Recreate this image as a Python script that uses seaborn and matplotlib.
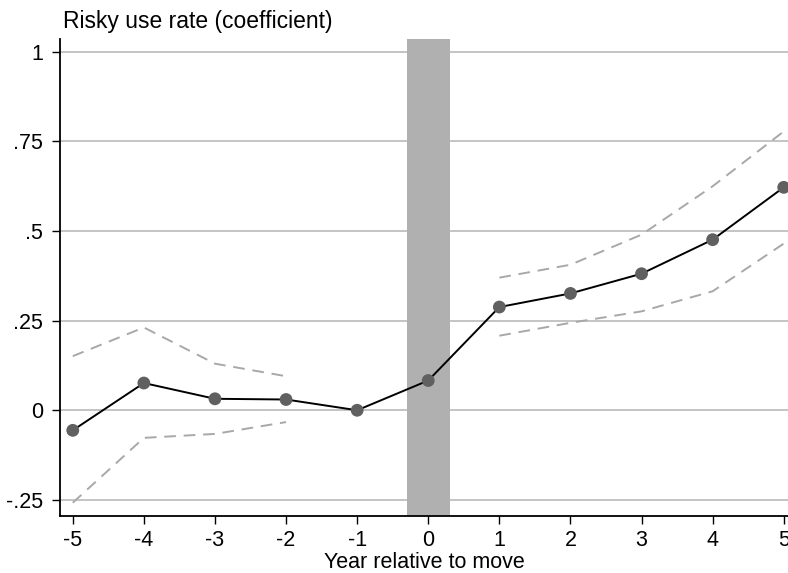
import numpy as np
import pandas as pd
import matplotlib
matplotlib.use("Agg")
import matplotlib.pyplot as plt
import seaborn as sns

# event-time coefficients
years = [-5, -4, -3, -2, -1, 0, 1, 2, 3, 4, 5]
coef = [-0.056, 0.076, 0.032, 0.030, 0.0, 0.083, 0.288, 0.326, 0.381, 0.476, 0.622]

# confidence bands (pre and post, drawn separately)
pre_years = [-5, -4, -3, -2]
pre_upper = [0.151, 0.231, 0.130, 0.095]
pre_lower = [-0.258, -0.077, -0.066, -0.033]
post_years = [1, 2, 3, 4, 5]
post_upper = [0.370, 0.406, 0.490, 0.625, 0.778]
post_lower = [0.208, 0.244, 0.276, 0.332, 0.465]

ytick_vals = [-0.25, 0, 0.25, 0.5, 0.75, 1]
ytick_labels = ['-.25', '0', '.25', '.5', '.75', '1']

sns.set_style("white")
plt.rcParams['font.family'] = ['Liberation Sans', 'DejaVu Sans']
plt.rcParams['text.color'] = 'black'
plt.rcParams['xtick.color'] = 'black'
plt.rcParams['ytick.color'] = 'black'
plt.rcParams['axes.labelcolor'] = 'black'

fig = plt.figure(figsize=(7.88, 5.73), dpi=100)
ax = fig.add_axes([0.0761, 0.0995, 0.9239, 0.8325])

for v in ytick_vals:
    ax.axhline(v, color='#b4b4b4', lw=1.1, zorder=0)

ax.axvspan(-0.3, 0.3, color='#b0b0b0', lw=0, zorder=1)

dash_kw = dict(color='#a8a8a8', lw=1.4, dashes=(6, 4), zorder=2)
pre = pd.DataFrame({'year': pre_years, 'up': pre_upper, 'lo': pre_lower})
post = pd.DataFrame({'year': post_years, 'up': post_upper, 'lo': post_lower})
for d in (pre, post):
    sns.lineplot(data=d, x='year', y='up', ax=ax, **dash_kw)
    sns.lineplot(data=d, x='year', y='lo', ax=ax, **dash_kw)

df = pd.DataFrame({'year': years, 'coef': coef})
sns.lineplot(data=df, x='year', y='coef', ax=ax, color='black', lw=1.4, zorder=3)
sns.scatterplot(data=df, x='year', y='coef', ax=ax, color='#606060', s=85,
                edgecolor='none', zorder=4, clip_on=False)

ax.set_xlim(-5.18, 5.06)
ax.set_ylim(-0.295, 1.036)
ax.set_xticks(years)
ax.set_xticklabels([str(y) for y in years])
ax.set_yticks(ytick_vals)
ax.set_yticklabels(ytick_labels)

for s in ['top', 'right']:
    ax.spines[s].set_visible(False)
for s in ['left', 'bottom']:
    ax.spines[s].set_color('black')
    ax.spines[s].set_linewidth(1.3)

ax.tick_params(axis='both', direction='out', length=6, width=1, color='black',
               labelsize=15.5, left=True, bottom=True)
ax.tick_params(axis='y', pad=6)
ax.tick_params(axis='x', pad=4)
ax.set_xlabel('Year relative to move', fontsize=15.5, labelpad=1)
ax.set_ylabel('')
fig.text(0.080, 0.962, 'Risky use rate (coefficient)', fontsize=16.5, ha='left', va='center')

fig.savefig('out.png', dpi=100)
